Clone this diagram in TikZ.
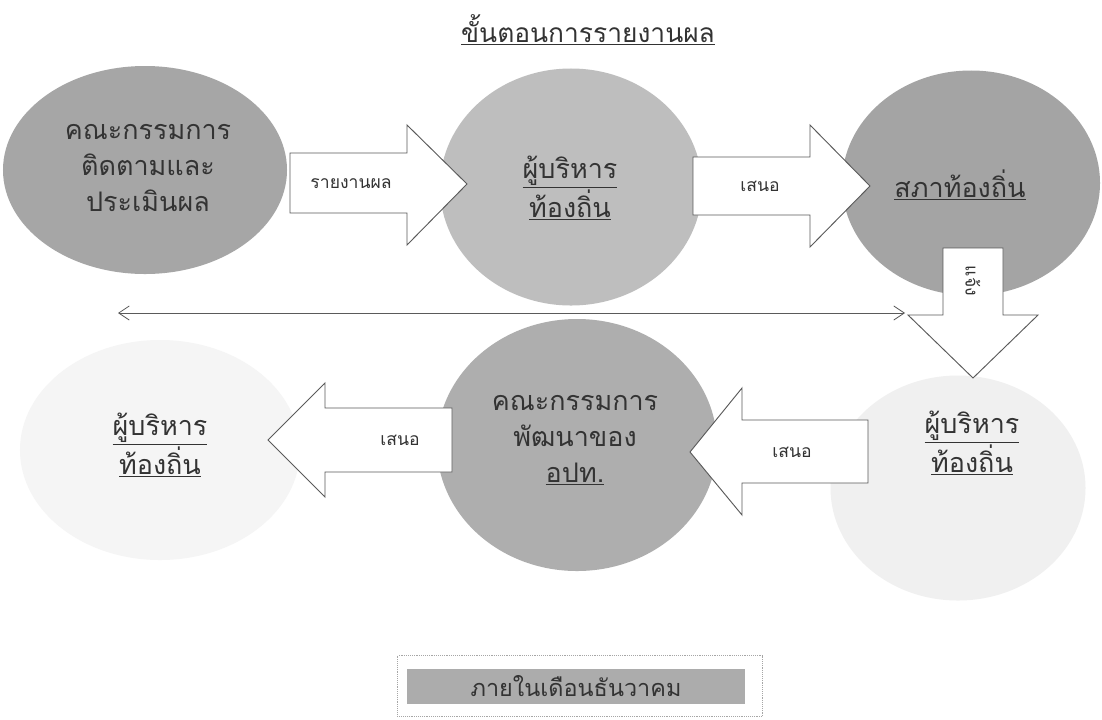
\documentclass[tikz,border=0pt]{standalone}
\usepackage{fontspec}
\newfontfamily\thai[Script=Thai]{Loma}
\usetikzlibrary{shapes.geometric,arrows.meta}
\definecolor{gA}{HTML}{A6A6A6}
\definecolor{gB}{HTML}{BEBEBE}
\definecolor{gC}{HTML}{A4A4A4}
\definecolor{gD}{HTML}{F5F5F5}
\definecolor{gE}{HTML}{AEAEAE}
\definecolor{gF}{HTML}{F0F0F0}
\definecolor{ink}{HTML}{333333}
\definecolor{edge}{HTML}{5A5A5A}
\begin{document}
\begin{tikzpicture}[x=0.03cm,y=-0.03cm,
  blob/.style={ellipse, inner sep=0pt, draw=none},
  big/.style={font=\thai\fontsize{23}{31}\selectfont, text=ink, align=center, inner sep=0pt},
  small/.style={font=\thai\fontsize{15}{18}\selectfont, text=ink, inner sep=0pt},
  barrow/.style={draw=edge, fill=white, line width=0.8pt, line join=miter}]
\useasboundingbox (0,0) rectangle (1102,719);
\fill[white] (0,0) rectangle (1102,719);

% title
\node[font=\thai\fontsize{22.5}{28}\selectfont, text=ink, inner sep=0pt] (title) at (588,30) {\underline{ขั้นตอนการรายงานผล}};

% ellipses
\node[blob, fill=gA, minimum width=8.52cm, minimum height=6.24cm] (e1) at (145,170) {};
\node[blob, fill=gB, minimum width=7.86cm, minimum height=7.11cm] (e2) at (571,187) {};
\node[blob, fill=gC, minimum width=7.74cm, minimum height=6.75cm] (e3) at (971,183) {};
\node[blob, fill=gD, minimum width=8.4cm, minimum height=6.6cm] (e4) at (160,450) {};
\node[blob, fill=gE, minimum width=8.4cm, minimum height=7.56cm] (e5) at (577,445) {};
\node[blob, fill=gF, minimum width=7.65cm, minimum height=6.75cm] (e6) at (958,488) {};

% block arrows
\draw[barrow] (290,153) -- (407,153) -- (407,125) -- (467,184) -- (407,245) -- (407,213) -- (290,213) -- cycle;
\draw[barrow] (693,157) -- (810,157) -- (810,125) -- (870,186) -- (810,247) -- (810,215) -- (693,215) -- cycle;
\draw[barrow] (943,248) -- (1003,248) -- (1003,315) -- (1038,315) -- (973,378) -- (908,315) -- (943,315) -- cycle;
\draw[barrow] (868,420) -- (742,420) -- (742,388) -- (690,452) -- (742,515) -- (742,483) -- (868,483) -- cycle;
\draw[barrow] (452,408) -- (325,408) -- (325,383) -- (268,440) -- (325,497) -- (325,472) -- (452,472) -- cycle;

\node[small] (l1) at (351,184) {รายงานผล};
\node[small] (l2) at (760,186) {เสนอ};
\node[small, rotate=-90] (l3) at (973,281) {แจ้ง};
\node[small] (l4) at (792,452) {เสนอ};
\node[small] (l5) at (400,440) {เสนอ};

% double arrow
\coordinate (dl) at (118,313);
\coordinate (dr) at (905,313);
\draw[edge, line width=0.7pt, {Straight Barb[length=9pt,width=12pt]}-{Straight Barb[length=9pt,width=12pt]}] (dl) -- (dr);

% texts
\node[big] (t1) at (148,168) {คณะกรรมการ\\ติดตามและ\\ประเมินผล};
\node[big] (t2) at (570,188) {\underline{ผู้บริหาร}\\\underline{ท้องถิ่น}};
\node[big] (t3) at (960,185) {\underline{สภาท้องถิ่น}};
\node[big] (t4) at (160,445) {\underline{ผู้บริหาร}\\\underline{ท้องถิ่น}};
\node[big] (t5) at (575,440) {คณะกรรมการ\\พัฒนาของ\\\underline{อปท.}};
\node[big] (t6) at (972,443) {\underline{ผู้บริหาร}\\\underline{ท้องถิ่น}};

% bottom box
\node[draw=gray!70, densely dotted, line width=0.6pt, minimum width=10.95cm, minimum height=1.83cm, inner sep=0pt] (outer) at (580,686) {};
\node[fill=gray!65, minimum width=10.11cm, minimum height=1.05cm, inner sep=0pt, font=\thai\fontsize{20}{26}\selectfont, text=ink] (when) at (576,686) {ภายในเดือนธันวาคม};
\end{tikzpicture}
\end{document}
